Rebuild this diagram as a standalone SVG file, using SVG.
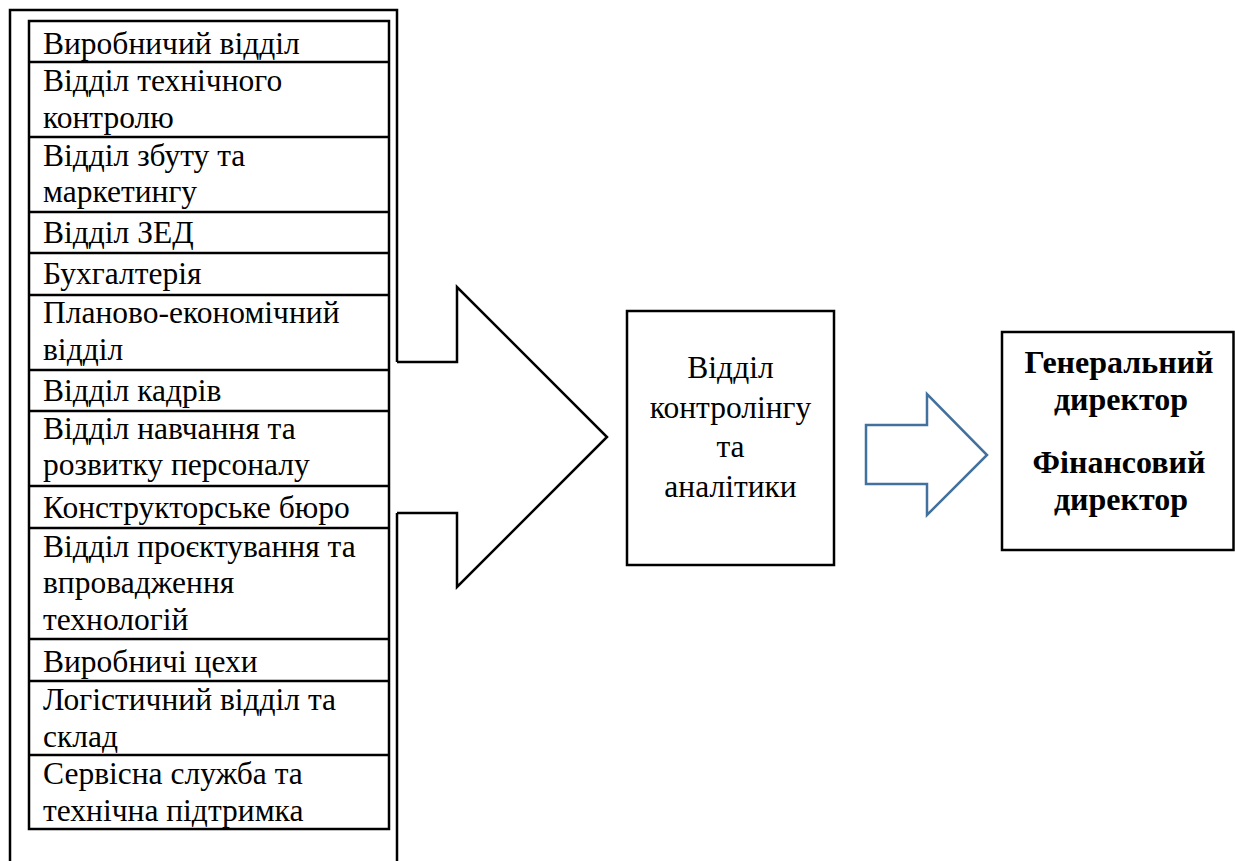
<svg xmlns="http://www.w3.org/2000/svg" width="1235" height="861" viewBox="0 0 1235 861">
<style>
text{font-family:'Liberation Serif','Times New Roman',Times,'DejaVu Serif',serif;font-size:31.5px;fill:#000}
.c{text-anchor:middle}
.b{font-weight:bold;font-size:32px}
.ln{fill:none;stroke:#000;stroke-width:2.5}
.box{fill:#fff;stroke:#000;stroke-width:2.5}
</style>
<rect width="1235" height="861" fill="#fff"/>
<g id="frame">
<path class="ln" d="M10,870 V10 H397 V362 M397,513 V870"/>
</g>
<g id="list">
<rect class="ln" x="29" y="21" width="360" height="808"/>
<path class="ln" d="M29,62H389M29,137H389M29,212H389M29,253H389M29,295H389M29,370H389M29,411H389M29,486H389M29,528H389M29,639H389M29,681H389M29,755H389"/>
<text x="43" y="54">Виробничий відділ</text>
<text x="43" y="91">Відділ технічного</text>
<text x="43" y="128">контролю</text>
<text x="43" y="166">Відділ збуту та</text>
<text x="43" y="202">маркетингу</text>
<text x="43" y="243">Відділ ЗЕД</text>
<text x="43" y="284">Бухгалтерія</text>
<text x="43" y="323">Планово-економічний</text>
<text x="43" y="360">відділ</text>
<text x="43" y="401">Відділ кадрів</text>
<text x="43" y="439">Відділ навчання та</text>
<text x="43" y="475">розвитку персоналу</text>
<text x="43" y="518">Конструкторське бюро</text>
<text x="43" y="557">Відділ проєктування та</text>
<text x="43" y="593">впровадження</text>
<text x="43" y="630">технологій</text>
<text x="43" y="672">Виробничі цехи</text>
<text x="43" y="710">Логістичний відділ та</text>
<text x="43" y="747">склад</text>
<text x="43" y="784">Сервісна служба та</text>
<text x="43" y="821">технічна підтримка</text>
</g>
<g id="connectors">
<polygon points="397,362 457,362 457,287 607,437 457,587 457,513 397,513" fill="#fff" stroke="none"/>
<polyline points="397,362 457,362 457,287 607,437 457,587 457,513 397,513" fill="none" stroke="#000" stroke-width="2.5"/>
<polygon points="866,425 927,425 927,394 987,455 927,515 927,484 866,484" fill="#fff" stroke="#41719C" stroke-width="2.5"/>
</g>
<g id="controlling">
<rect class="box" x="627" y="311" width="207" height="254"/>
<text class="c" x="730.5" y="378">Відділ</text>
<text class="c" x="730.5" y="418">контролінгу</text>
<text class="c" x="730.5" y="457">та</text>
<text class="c" x="730.5" y="497">аналітики</text>
</g>
<g id="directors">
<rect class="box" x="1002" y="332" width="231.5" height="218"/>
<text class="b c" x="1119" y="373">Генеральний</text>
<text class="b c" x="1121" y="410">директор</text>
<text class="b c" x="1119" y="473">Фінансовий</text>
<text class="b c" x="1121" y="510">директор</text>
</g>
</svg>
